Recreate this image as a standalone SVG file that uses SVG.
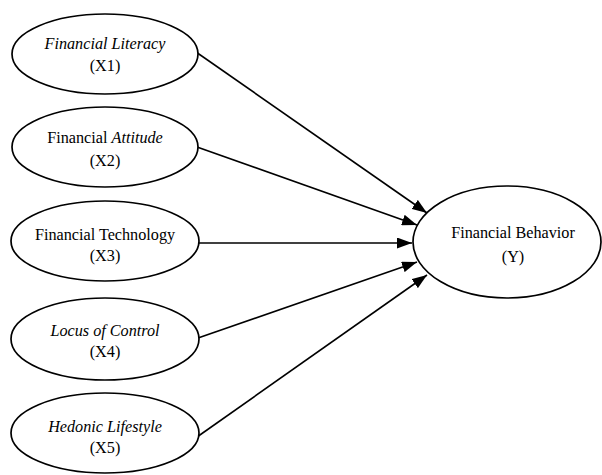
<svg xmlns="http://www.w3.org/2000/svg" width="602" height="475" viewBox="0 0 602 475">
<style>
.node ellipse{fill:#fff;stroke:#000;stroke-width:1.7}
.node text{font-family:'Liberation Serif','Times New Roman',serif;font-size:16.2px;fill:#000;text-anchor:middle}
.it{font-style:italic}
.conn line{stroke:#000;stroke-width:1.6}
</style>
<defs>
<marker id="ah" viewBox="0 0 15 11" refX="15" refY="5.5" markerWidth="15" markerHeight="11" markerUnits="userSpaceOnUse" orient="auto">
<path d="M0,0 L15,5.5 L0,11 Z" fill="#000"/>
</marker>
</defs>
<rect width="602" height="475" fill="#fff"/>
<g class="conn">
<line x1="196" y1="52" x2="427" y2="213" marker-end="url(#ah)"/>
<line x1="197" y1="147" x2="417" y2="225" marker-end="url(#ah)"/>
<line x1="199" y1="243" x2="412" y2="243" marker-end="url(#ah)"/>
<line x1="198" y1="338" x2="417" y2="262" marker-end="url(#ah)"/>
<line x1="197" y1="437" x2="427" y2="275" marker-end="url(#ah)"/>
</g>
<g id="x1" class="node">
<ellipse cx="105" cy="54" rx="93" ry="40"/>
<text x="105" y="49" class="it">Financial Literacy</text>
<text x="105" y="71">(X1)</text>
</g>
<g id="x2" class="node">
<ellipse cx="105" cy="147" rx="93" ry="40"/>
<text x="105" y="143">Financial <tspan class="it">Attitude</tspan></text>
<text x="105" y="166">(X2)</text>
</g>
<g id="x3" class="node">
<ellipse cx="105" cy="241" rx="94" ry="40"/>
<text x="105" y="240">Financial Technology</text>
<text x="105" y="261">(X3)</text>
</g>
<g id="x4" class="node">
<ellipse cx="105" cy="339" rx="94" ry="41"/>
<text x="105" y="336" class="it">Locus of Control</text>
<text x="105" y="357">(X4)</text>
</g>
<g id="x5" class="node">
<ellipse cx="105" cy="433" rx="94" ry="40"/>
<text x="105" y="432" class="it">Hedonic Lifestyle</text>
<text x="105" y="453">(X5)</text>
</g>
<g id="y" class="node">
<ellipse cx="507" cy="242" rx="94" ry="56"/>
<text x="513" y="238">Financial Behavior</text>
<text x="513" y="262">(Y)</text>
</g>
</svg>
